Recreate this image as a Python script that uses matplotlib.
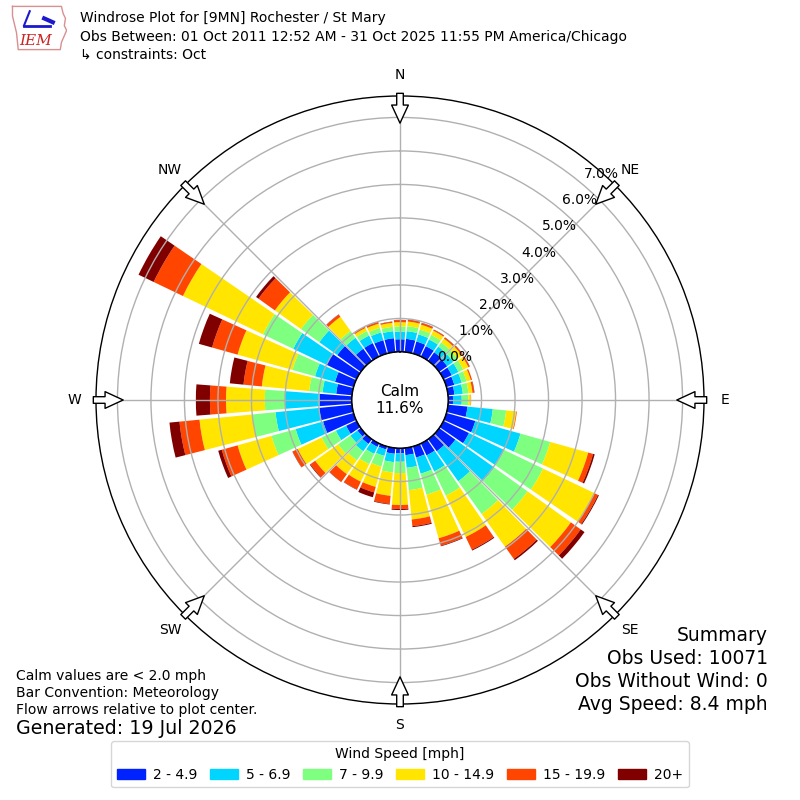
import numpy as np
import matplotlib.pyplot as plt
from matplotlib.patches import Patch
from matplotlib.transforms import ScaledTranslation

# wind direction bins (deg, meteorological) and cumulative percent
# at the top of each speed class
directions = np.arange(0, 360, 10)
top_2_5 = [0.38, 0.40, 0.38, 0.35, 0.32, 0.30, 0.28, 0.25, 0.20, 0.15,
           0.59, 0.90, 0.85, 0.60, 0.45, 0.40, 0.35, 0.22, 0.16, 0.18,
           0.10, 0.12, 0.18, 0.13, 0.35, 0.95, 0.99, 0.96, 0.48, 0.58,
           1.00, 0.87, 0.45, 0.45, 0.42, 0.42]
top_5_7 = [0.61, 0.63, 0.60, 0.57, 0.53, 0.52, 0.50, 0.48, 0.45, 0.41,
           1.35, 2.30, 2.02, 2.03, 1.55, 0.93, 0.85, 0.60, 0.41, 0.43,
           0.30, 0.35, 0.45, 0.39, 0.69, 1.80, 2.30, 2.00, 0.89, 1.20,
           2.10, 1.53, 0.85, 0.70, 0.66, 0.63]
top_7_10 = [0.76, 0.78, 0.75, 0.72, 0.68, 0.68, 0.66, 0.63, 0.62, 0.61,
            1.75, 3.22, 3.30, 3.25, 2.75, 1.73, 1.50, 1.27, 0.75, 0.74,
            0.63, 0.69, 0.78, 0.84, 1.16, 2.55, 3.00, 2.60, 1.29, 1.90,
            3.10, 2.20, 1.10, 0.85, 0.80, 0.76]
top_10_15 = [0.89, 0.92, 0.90, 0.86, 0.82, 0.84, 0.83, 0.76, 0.74, 0.68,
             2.05, 4.40, 5.00, 4.84, 3.95, 3.10, 2.85, 2.15, 1.70, 1.44,
             1.26, 1.27, 1.29, 1.68, 1.95, 3.60, 4.58, 3.76, 2.71, 3.60,
             5.75, 3.16, 1.62, 0.95, 0.93, 0.88]
top_15_20 = [0.95, 0.97, 0.95, 0.89, 0.86, 0.88, 0.87, 0.80, 0.79, 0.69,
             2.07, 4.55, 5.12, 5.20, 4.40, 3.52, 3.08, 2.35, 1.82, 1.68,
             1.43, 1.53, 1.57, 1.86, 2.12, 4.09, 5.18, 4.24, 3.26, 4.39,
             6.72, 3.76, 1.70, 0.99, 0.98, 0.91]
top_20 = [0.96, 0.98, 0.96, 0.90, 0.87, 0.89, 0.88, 0.80, 0.80, 0.69,
          2.07, 4.60, 5.15, 5.34, 4.45, 3.55, 3.10, 2.38, 1.85, 1.70,
          1.58, 1.54, 1.58, 1.88, 2.13, 4.20, 5.48, 4.66, 3.67, 4.80,
          7.22, 3.85, 1.71, 1.00, 0.99, 0.92]

speed_labels = ['2 - 4.9', '5 - 6.9', '7 - 9.9', '10 - 14.9', '15 - 19.9', '20+']
colors = ['#0022ff', '#00d5ff', '#7fff7f', '#ffe500', '#ff4500', '#800000']
calm_pct = 11.6
rings = np.arange(0, 8)

compass = ['N', 'NE', 'E', 'SE', 'S', 'SW', 'W', 'NW']

fig = plt.figure(figsize=(8, 8), dpi=100)
ax = fig.add_axes([0.12, 0.12, 0.76, 0.76], projection='polar')
ax.set_theta_zero_location('N')
ax.set_theta_direction(-1)

rmax = 7.64
ax.set_ylim(0, rmax)
ax.set_rorigin(-1.433)

theta = np.deg2rad(directions)
width = np.deg2rad(8.8)
tops = [top_2_5, top_5_7, top_7_10, top_10_15, top_15_20, top_20]
bottom = np.zeros(len(directions))
for top, c in zip(tops, colors):
    top = np.array(top)
    ax.bar(theta, top - bottom, width=width, bottom=bottom, color=c,
           edgecolor='none', zorder=1)
    bottom = top

# grid
ax.set_xticks(np.deg2rad(np.arange(0, 360, 45)))
ax.set_xticklabels([])
ax.set_yticks(rings)
ax.set_yticklabels([])
ax.grid(True, color='#b0b0b0', lw=1)
ax.spines['polar'].set_linewidth(1)

# ring labels, nudged off the ring like the original
shift = ax.transData + ScaledTranslation(0.25, 0.05, fig.dpi_scale_trans)
for v in rings:
    ax.text(np.deg2rad(38.5), v, '%.1f%%' % v, transform=shift,
            ha='center', va='center', fontsize=10, zorder=5)

# calm circle
t = np.linspace(0, 2 * np.pi, 200)
ax.plot(t, np.zeros_like(t), color='black', lw=1.5, zorder=3)
ax.text(0.5, 0.5, 'Calm\n%.1f%%' % calm_pct, transform=ax.transAxes,
        ha='center', va='center', fontsize=11)

# compass labels and flow arrows
for i, name in enumerate(compass):
    th = np.deg2rad(i * 45)
    ax.text(th, 8.27, name, ha='center', va='center', fontsize=10,
            clip_on=False)
    ax.annotate('', xy=(th, 6.83), xytext=(th, 7.72),
                arrowprops=dict(arrowstyle='simple,head_length=0.93,head_width=0.86,tail_width=0.34',
                                fc='white', ec='black', lw=1,
                                mutation_scale=14, shrinkA=0, shrinkB=0),
                annotation_clip=False, zorder=4)

# header
fig.text(0.1, 0.977, 'Windrose Plot for [9MN] Rochester / St Mary',
         fontsize=10, va='center')
fig.text(0.1, 0.954, 'Obs Between: 01 Oct 2011 12:52 AM - 31 Oct 2025 11:55 PM America/Chicago',
         fontsize=10, va='center')
fig.text(0.1, 0.932, '\u21b3 constraints: Oct', fontsize=10, va='center')

# logo
lax = fig.add_axes([0.012, 0.935, 0.072, 0.06])
iowa_x = [0.05, 0.9, 0.93, 0.97, 0.95, 0.99, 0.9, 0.88, 0.15, 0.12, 0.05, 0.05]
iowa_y = [0.95, 0.95, 0.8, 0.7, 0.55, 0.45, 0.2, 0.05, 0.05, 0.4, 0.75, 0.95]
lax.plot(iowa_x, iowa_y, color='#d89090', lw=1)
lax.plot([0.25, 0.7], [0.55, 0.55], color='#1a1acc', lw=2)
lax.plot([0.25, 0.35], [0.55, 0.85], color='#1a1acc', lw=1.5)
lax.plot([0.6, 0.75], [0.7, 0.62], color='#1a1acc', lw=3)
lax.text(0.45, 0.22, 'IEM', color='#cc2222', fontsize=11, ha='center',
         va='center', family='serif', style='italic')
lax.set_xlim(0, 1)
lax.set_ylim(0, 1)
lax.axis('off')

# footer text
fig.text(0.02, 0.155, 'Calm values are < 2.0 mph', fontsize=10, va='center')
fig.text(0.02, 0.134, 'Bar Convention: Meteorology', fontsize=10, va='center')
fig.text(0.02, 0.113, 'Flow arrows relative to plot center.', fontsize=10,
         va='center')
fig.text(0.02, 0.089, 'Generated: 19 Jul 2026', fontsize=13.7, va='center')

summary = ['Summary', 'Obs Used: 10071', 'Obs Without Wind: 0',
           'Avg Speed: 8.4 mph']
for i, line in enumerate(summary):
    fig.text(0.96, 0.206 - i * 0.029, line, fontsize=13.5, ha='right',
             va='center')

handles = [Patch(color=c, label=l) for c, l in zip(colors, speed_labels)]
fig.legend(handles=handles, loc='lower center', bbox_to_anchor=(0.5, 0.007),
           ncol=6, title='Wind Speed [mph]', fontsize=10, title_fontsize=10,
           handlelength=2.0, handleheight=0.8, handletextpad=0.6,
           columnspacing=0.9)

fig.savefig('out.png', dpi=100)
